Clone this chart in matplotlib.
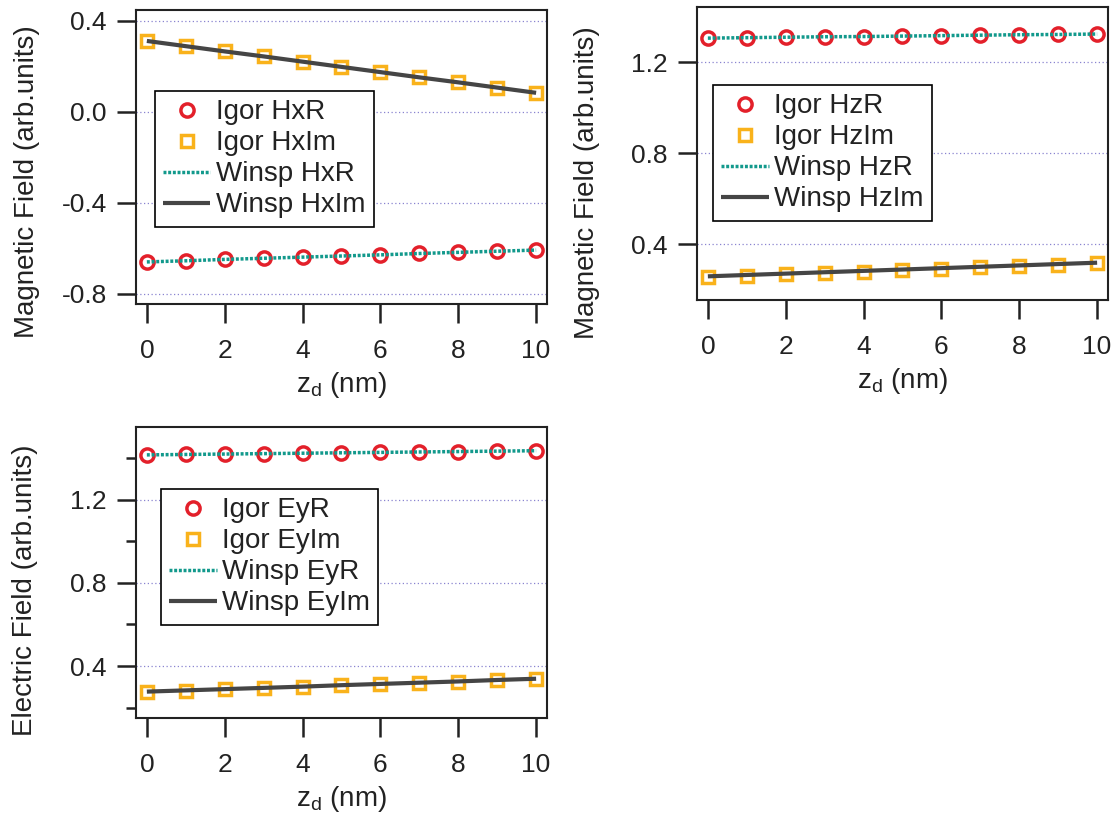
import matplotlib
matplotlib.use("Agg")
import matplotlib.pyplot as plt
from matplotlib.ticker import MultipleLocator

plt.rcParams['font.family'] = ['Liberation Sans', 'DejaVu Sans']
plt.rcParams['mathtext.fontset'] = 'custom'
plt.rcParams['mathtext.rm'] = 'Liberation Sans'
plt.rcParams['mathtext.it'] = 'Liberation Sans'

# position along z_d (nm)
zd = [0, 1, 2, 3, 4, 5, 6, 7, 8, 9, 10]

# Hx
igor_hx_r = [-0.659, -0.654, -0.648, -0.643, -0.638, -0.633, -0.628, -0.622, -0.617, -0.612, -0.607]
igor_hx_im = [0.312, 0.289, 0.266, 0.244, 0.221, 0.198, 0.175, 0.152, 0.130, 0.107, 0.084]
winsp_hx_r = [-0.659, -0.654, -0.648, -0.643, -0.638, -0.633, -0.628, -0.622, -0.617, -0.612, -0.607]
winsp_hx_im = [0.312, 0.289, 0.266, 0.244, 0.221, 0.198, 0.175, 0.152, 0.130, 0.107, 0.084]

# Hz
igor_hz_r = [1.305, 1.307, 1.309, 1.311, 1.312, 1.314, 1.316, 1.318, 1.320, 1.321, 1.323]
igor_hz_im = [0.255, 0.261, 0.267, 0.273, 0.279, 0.286, 0.292, 0.298, 0.304, 0.310, 0.316]
winsp_hz_r = [1.305, 1.307, 1.309, 1.311, 1.312, 1.314, 1.316, 1.318, 1.320, 1.321, 1.323]
winsp_hz_im = [0.258, 0.264, 0.270, 0.276, 0.282, 0.288, 0.294, 0.300, 0.306, 0.312, 0.318]

# Ey
igor_ey_r = [1.416, 1.418, 1.420, 1.422, 1.424, 1.426, 1.428, 1.430, 1.432, 1.434, 1.436]
igor_ey_im = [0.275, 0.281, 0.288, 0.294, 0.300, 0.307, 0.313, 0.319, 0.325, 0.332, 0.338]
winsp_ey_r = [1.416, 1.418, 1.420, 1.422, 1.424, 1.426, 1.428, 1.430, 1.432, 1.434, 1.436]
winsp_ey_im = [0.277, 0.283, 0.289, 0.295, 0.301, 0.308, 0.314, 0.320, 0.326, 0.333, 0.339]

RED = '#e3202a'
ORANGE = '#f9b21b'
TEAL = '#12998c'
GRAY = '#454545'
FRAME = '#222222'

fig = plt.figure(figsize=(11.2, 8.19), dpi=100)
ax1 = fig.add_axes([0.1214, 0.6288, 0.367, 0.359])
ax2 = fig.add_axes([0.6223, 0.6337, 0.367, 0.3578])
ax3 = fig.add_axes([0.1214, 0.1233, 0.367, 0.3553])


def panel(ax, r_igor, im_igor, r_winsp, im_winsp, name, ylim, ylabel,
          label_xy, legend_xy, minor=False):
    ax.plot(zd, r_igor, ls='none', marker='o', ms=9.5, mfc='none', mec=RED,
            mew=2.5, label='Igor %sR' % name, zorder=4)
    ax.plot(zd, im_igor, ls='none', marker='s', ms=9, mfc='none', mec=ORANGE,
            mew=2.5, label='Igor %sIm' % name, zorder=4)
    ax.plot(zd, r_winsp, color=TEAL, lw=2.5, dashes=(0.85, 0.5),
            label='Winsp %sR' % name, zorder=5)
    ax.plot(zd, im_winsp, color=GRAY, lw=3, solid_capstyle='butt',
            label='Winsp %sIm' % name, zorder=5)

    ax.set_xlim(-0.28, 10.28)
    ax.set_ylim(*ylim)
    ax.xaxis.set_major_locator(MultipleLocator(2))
    ax.yaxis.set_major_locator(MultipleLocator(0.4))
    ax.yaxis.set_major_formatter(matplotlib.ticker.FormatStrFormatter('%.1f'))
    if minor:
        ax.yaxis.set_minor_locator(MultipleLocator(0.2))
        ax.tick_params(axis='y', which='minor', direction='out', length=7.5,
                       width=1.8, color=FRAME)

    ax.grid(axis='y', which='major', color='#8a84d0', ls=(0, (1, 2)), lw=0.9)
    ax.set_axisbelow(True)
    for s in ax.spines.values():
        s.set_linewidth(1.5)
        s.set_color(FRAME)
    ax.tick_params(axis='both', which='major', direction='out', length=14,
                   width=1.8, color=FRAME, labelsize=19, labelcolor='#222222')
    ax.tick_params(axis='x', pad=11)
    ax.tick_params(axis='y', pad=7)

    ax.set_xlabel('z$_{\\rm d}$ (nm)', fontsize=20, color='#222222', labelpad=5)
    ax.set_ylabel(ylabel, fontsize=20, color='#222222')
    ax.yaxis.set_label_coords(*label_xy)

    leg = ax.legend(loc='upper left', bbox_to_anchor=legend_xy, borderaxespad=0,
                    fontsize=20, frameon=True, fancybox=False, edgecolor='black',
                    framealpha=1, handlelength=1.7, handletextpad=0.2,
                    labelspacing=0.18, borderpad=0.3)
    leg.get_frame().set_linewidth(1.2)
    for t in leg.get_texts():
        t.set_color('#222222')


panel(ax1, igor_hx_r, igor_hx_im, winsp_hx_r, winsp_hx_im, 'Hx',
      (-0.844, 0.448), 'Magnetic Field (arb.units)', (-0.234, 0.415), (0.046, 0.724))
panel(ax2, igor_hz_r, igor_hz_im, winsp_hz_r, winsp_hz_im, 'Hz',
      (0.154, 1.442), 'Magnetic Field (arb.units)', (-0.236, 0.40), (0.039, 0.734))
panel(ax3, igor_ey_r, igor_ey_im, winsp_ey_r, winsp_ey_im, 'Ey',
      (0.15, 1.55), 'Electric Field (arb.units)', (-0.238, 0.44), (0.061, 0.787),
      minor=True)

fig.savefig('out.png', dpi=100)
